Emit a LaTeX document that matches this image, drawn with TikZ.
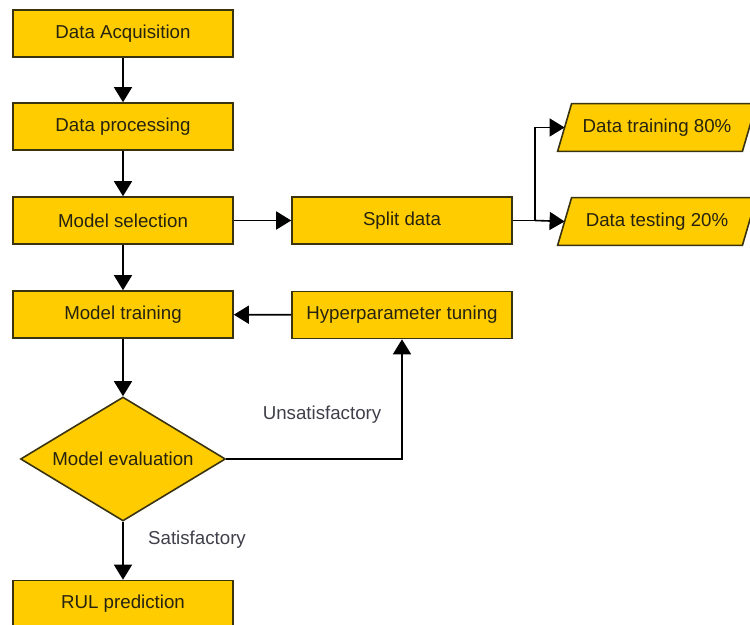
\documentclass[tikz,border=0pt]{standalone}
\usepackage{fontspec}
\setmainfont{Liberation Sans}
\usetikzlibrary{arrows.meta,shapes.geometric,backgrounds}
\definecolor{boxfill}{HTML}{FFCC00}
\definecolor{boxline}{HTML}{3A3310}
\definecolor{txt}{HTML}{262310}
\definecolor{lbl}{HTML}{3F3F4A}
\begin{document}
\begin{tikzpicture}[x=0.5pt,y=-0.5pt,
  base/.style={draw=boxline, fill=boxfill, line width=0.8pt, inner sep=0pt,
    font=\fontsize{9.35}{11}\selectfont, text=txt},
  stepbox/.style={base, rectangle, minimum width=110pt, minimum height=23.5pt},
  decbox/.style={base, diamond, aspect=1.65, minimum width=102.5pt, minimum height=62pt},
  iotext/.style={rectangle, inner sep=0pt, minimum width=92pt, minimum height=23.5pt,
    font=\fontsize{9.35}{11}\selectfont, text=txt},
  ioshape/.style={draw=boxline, fill=boxfill, line width=0.8pt},
  arr/.style={-{Triangle[width=9pt,length=7.5pt]}, line width=0.8pt, draw=black},
  lab/.style={font=\fontsize{9.35}{11}\selectfont, text=lbl, inner sep=0pt}
]
\useasboundingbox (0,0) rectangle (750,625);
\node[stepbox] (acq)  at (123,33.5)  {Data Acquisition};
\node[stepbox] (proc) at (123,126.5) {Data processing};
\node[stepbox] (sel)  at (123,220.5) {Model selection};
\node[stepbox] (trn)  at (123,314.5) {Model training};
\node[decbox]  (eval) at (123,459)   {Model evaluation};
\node[stepbox] (rul)  at (123,604)   {RUL prediction};
\node[stepbox] (split) at (402,220.5) {Split data};
\node[stepbox] (hyp)  at (402,315)   {Hyperparameter tuning};
\node[iotext]  (dtr)  at (657,127.5) {Data training 80\%};
\node[iotext]  (dte)  at (657,221.5) {Data testing 20\%};
\begin{scope}[on background layer]
\foreach \n in {dtr,dte}{
  \draw[ioshape] ([xshift=-3.5pt]\n.south west) -- ([xshift=3.5pt]\n.north west)
    -- ([xshift=3.5pt]\n.north east) -- ([xshift=-3.5pt]\n.south east) -- cycle;
}
\end{scope}
\coordinate (br) at (535,220.5);
\node[lab] (uns) at (322,415) {Unsatisfactory};
\node[lab] (sat) at (197,540) {Satisfactory};

\draw[arr] (acq) -- (proc);
\draw[arr] (proc) -- (sel);
\draw[arr] (sel) -- (trn);
\draw[arr] (trn) -- (eval);
\draw[arr] (eval) -- (rul);
\draw[arr] (sel) -- (split);
\draw[line width=0.8pt] (split.east) -- (br);
\draw[arr] (br) |- (dtr.west);
\draw[arr] (br) -- (dte.west);
\draw[arr] (hyp) -- (trn);
\draw[arr] (eval.east) -| (hyp.south);
\end{tikzpicture}
\end{document}
